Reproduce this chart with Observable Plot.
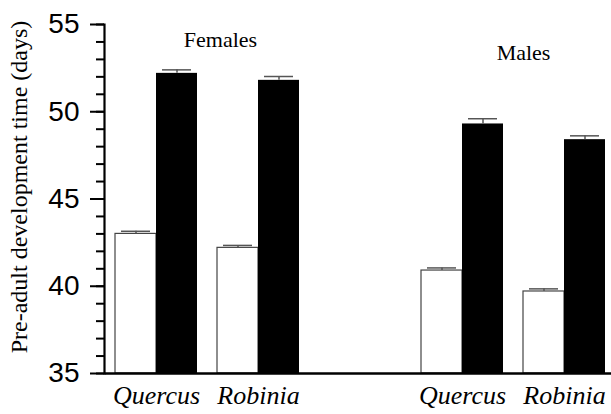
<!DOCTYPE html>
<html>
<head>
<meta charset="utf-8">
<script src="https://cdn.jsdelivr.net/npm/d3@7"></script>
<script src="https://cdn.jsdelivr.net/npm/@observablehq/plot@0.6"></script>
<style>
  html, body { margin: 0; padding: 0; background: white; overflow: hidden; }
  #chart { position: relative; width: 611px; height: 414px; }
  #chart svg { display: block; position: absolute; left: 0; top: 0; }
</style>
</head>
<body>
<div id="chart"></div>
<script>
// ---- data ----
const sexes = ["Females", "Females", "Males", "Males"];
const hosts = ["Quercus", "Robinia", "Quercus", "Robinia"];
const openMeans = [43.0, 42.2, 40.9, 39.7];
const openErrors = [0.15, 0.14, 0.15, 0.15];
const filledMeans = [52.2, 51.8, 49.3, 48.4];
const filledErrors = [0.2, 0.22, 0.3, 0.22];
const treatments = ["open", "filled"];
const panelLabels = ["Females", "Males"];
const yDomain = [35, 55];
const yTicks = [35, 40, 45, 50, 55];
const yMinorTicks = d3.range(35, 56, 1);
const yTitle = "Pre-adult development time (days)";

// ---- build table ----
const rows = [];
sexes.forEach((s, i) => {
  rows.push({group: s + "|" + hosts[i], sex: s, host: hosts[i], treatment: "open", mean: openMeans[i], se: openErrors[i]});
  rows.push({group: s + "|" + hosts[i], sex: s, host: hosts[i], treatment: "filled", mean: filledMeans[i], se: filledErrors[i]});
});
const groups = sexes.map((s, i) => s + "|" + hosts[i]);
const fxDomain = [groups[0], groups[1], "gap", groups[2], groups[3]];

const serif = "Liberation Serif";
const sans = "Liberation Sans";
const frameOpts = {width: 611, height: 414, marginLeft: 104, marginRight: -5.5, marginTop: 24, marginBottom: 41};

// faceted bars
const chart = Plot.plot({
  ...frameOpts,
  style: {background: "white", fontFamily: serif, overflow: "hidden"},
  fx: {domain: fxDomain, paddingInner: 0, paddingOuter: 0, label: null},
  x: {domain: treatments, paddingInner: 0, paddingOuter: 0.2424, axis: null},
  y: {domain: yDomain, axis: null},
  marks: [
    Plot.barY(rows.filter(d => d.treatment === "open"), {
      fx: "group", x: "treatment", y1: yDomain[0], y2: "mean",
      fill: "white", stroke: "#444", strokeWidth: 1.2
    }),
    Plot.barY(rows.filter(d => d.treatment === "filled"), {
      fx: "group", x: "treatment", y1: yDomain[0], y2: "mean",
      fill: "black"
    }),
    // error bars (upper half)
    Plot.ruleX(rows, {
      fx: "group", x: "treatment", y1: "mean", y2: d => d.mean + d.se,
      stroke: "#555", strokeWidth: 1.5
    }),
    Plot.tickY(rows, {
      fx: "group", x: "treatment", y: d => d.mean + d.se,
      insetLeft: 6, insetRight: 6, stroke: "#555", strokeWidth: 1.5
    }),
    // panel labels
    Plot.text([panelLabels[0]], {
      fx: [groups[1]], frameAnchor: "top-left", textAnchor: "middle", lineAnchor: "bottom",
      dx: 13, dy: 22, fontSize: 22, fontFamily: serif, fill: "black"
    }),
    Plot.text([panelLabels[1]], {
      fx: [groups[3]], frameAnchor: "top-left", textAnchor: "middle", lineAnchor: "bottom",
      dx: 10, dy: 35, fontSize: 22, fontFamily: serif, fill: "black"
    }),
    Plot.axisFx({anchor: "bottom", tickSize: 0, tickPadding: 12, fontSize: 26, fontStyle: "italic", fontFamily: serif,
      tickFormat: d => d.split("|")[1] ?? "", label: null, fill: "black"}),
    Plot.frame({facet: "super", anchor: "bottom", strokeWidth: 2.6})
  ]
});

// y axis layer (same y scale, no facets)
const axisLayer = Plot.plot({
  ...frameOpts,
  style: {background: "transparent", fontFamily: serif, overflow: "hidden", pointerEvents: "none"},
  y: {domain: yDomain, label: null},
  marks: [
    Plot.axisY({ticks: yMinorTicks, tickSize: 8, tickFormat: () => "", strokeWidth: 2, label: null, stroke: "black"}),
    Plot.axisY({ticks: yTicks, tickSize: 14, tickPadding: 11, fontSize: 28, fontFamily: sans,
      strokeWidth: 2, label: null, fill: "black", stroke: "black"}),
    Plot.frame({anchor: "left", strokeWidth: 2.2}),
    Plot.text([yTitle], {
      frameAnchor: "left", rotate: -90, textAnchor: "middle", lineAnchor: "bottom",
      dx: -78, dy: -12, fontSize: 24, fontFamily: serif, fill: "black"
    })
  ]
});
const host = document.getElementById("chart");
host.append(chart);
host.append(axisLayer);
</script>
</body>
</html>
